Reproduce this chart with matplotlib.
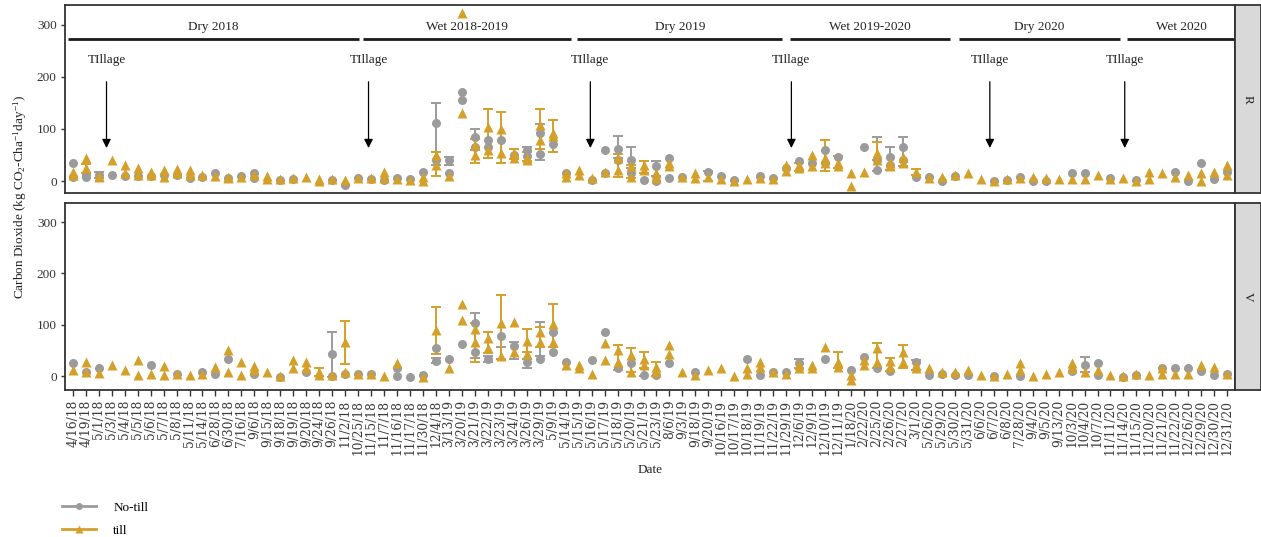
import numpy as np
import matplotlib
matplotlib.use("Agg")
import matplotlib.pyplot as plt
from matplotlib.lines import Line2D

nan = np.nan

dates = ["4/16/18", "4/19/18", "5/1/18", "5/3/18", "5/4/18", "5/5/18", "5/6/18", "5/7/18",
         "5/8/18", "5/11/18", "5/14/18", "6/28/18", "6/30/18", "7/16/18", "9/6/18", "9/15/18",
         "9/18/18", "9/19/18", "9/20/18", "9/24/18", "9/26/18", "11/2/18", "10/25/18", "11/15/18",
         "11/7/18", "11/16/18", "11/17/18", "11/30/18", "12/4/18", "3/13/19", "3/20/19", "3/21/19",
         "3/22/19", "3/23/19", "3/24/19", "3/26/19", "3/29/19", "5/9/19", "5/14/19", "5/15/19",
         "5/16/19", "5/17/19", "5/18/19", "5/20/19", "5/21/19", "5/23/19", "8/6/19", "9/3/19",
         "9/18/19", "9/20/19", "10/16/19", "10/17/19", "10/18/19", "11/19/19", "11/22/19", "11/29/19",
         "12/6/19", "12/9/19", "12/10/19", "12/11/19", "1/18/20", "2/22/20", "2/25/20", "2/26/20",
         "2/27/20", "3/1/20", "5/26/20", "5/29/20", "5/30/20", "5/31/20", "6/6/20", "6/7/20",
         "6/8/20", "7/28/20", "9/4/20", "9/5/20", "9/13/20", "10/3/20", "10/4/20", "10/7/20",
         "11/11/20", "11/14/20", "11/15/20", "11/20/20", "11/21/20", "11/22/20", "12/26/20", "12/29/20",
         "12/30/20", "12/31/20"]

# ---- site R : two observations per treatment and date ----
r_notill_a = [35, 12, 12, 12, 10, 10, 10, 12, 12, 5, 8, 15, 5, 10, 15, nan, 2, 4, nan, nan,
              2, -7, 5, 3, 2, 5, 3, 17, 111, 40, 171, 85, 79, 79, 50, 60, 92, 72, 15, nan,
              2, 60, 62, 40, 2, 28, 44, 8, nan, 17, 10, 2, nan, 10, 5, 25, 38, 35, 60, 47,
              nan, 66, 21, 47, 66, 8, 8, 0, 10, nan, nan, 0, 2, 8, 0, 0, nan, 15, 15, nan,
              5, nan, 2, nan, nan, 18, 0, 34, 3, 18]
r_notill_b = [8, 8, nan, nan, nan, nan, nan, nan, nan, nan, nan, nan, nan, nan, 5, nan, nan, nan, nan, nan,
              nan, nan, nan, nan, nan, nan, nan, nan, 40, 15, 156, 65, 65, nan, nan, 48, 52, nan, nan, nan,
              nan, 15, 40, 15, nan, 0, 5, nan, nan, nan, nan, nan, nan, nan, nan, nan, nan, nan, 35, nan,
              nan, nan, 40, 30, 40, nan, nan, nan, nan, nan, nan, nan, nan, nan, nan, nan, nan, nan, nan, nan,
              nan, nan, nan, nan, nan, nan, nan, nan, nan, nan]
r_till_a = [17, 44, 10, 40, 31, 25, 17, 22, 24, 21, 12, 10, 8, 8, 12, 10, 3, 5, 7, 3,
            3, 2, 5, 5, 17, 4, 2, 8, 50, 10, 323, 70, 104, 99, 54, 45, 108, 92, 15, 21,
            5, 18, 45, 28, 31, 15, 34, 8, 15, 8, 3, 0, 3, 5, 3, 30, 30, 50, 44, 34,
            15, 18, 54, 35, 47, 18, 5, 8, 12, 15, 3, 0, 3, 5, 8, 5, 3, 3, 3, 12,
            3, 5, 0, 18, 15, 8, 12, 15, 18, 31]
r_till_b = [12, 25, 8, nan, 15, 12, 12, 8, 15, 12, nan, nan, 5, nan, nan, 3, nan, nan, nan, 0,
            nan, nan, nan, nan, 5, nan, nan, 0, 30, nan, 130, 50, 60, 54, 45, 40, 79, 86, 8, 12,
            nan, nan, 22, 8, 21, 5, 28, nan, 5, nan, nan, nan, nan, nan, nan, 20, 25, 28, 35, 28,
            -10, nan, 40, 28, 35, nan, nan, nan, nan, nan, nan, nan, nan, nan, nan, nan, nan, nan, nan, nan,
            nan, nan, nan, 3, nan, nan, nan, 0, nan, 12]

# error bars (low, high) per date
r_notill_err = {"5/1/18": (5, 18), "12/4/18": (30, 150), "3/13/19": (30, 46), "3/21/19": (60, 100),
                "3/26/19": (38, 65), "3/29/19": (40, 110), "5/18/19": (45, 86), "5/20/19": (25, 66),
                "5/23/19": (10, 38), "9/20/19": (0, 20), "2/25/20": (20, 85), "2/26/20": (21, 66),
                "2/27/20": (28, 85)}
r_till_err = {"4/19/18": (15, 32), "12/4/18": (10, 55), "3/21/19": (35, 80), "3/22/19": (45, 138),
              "3/23/19": (35, 132), "3/24/19": (42, 62), "3/26/19": (38, 55), "3/29/19": (62, 138),
              "5/9/19": (55, 118), "5/18/19": (8, 52), "5/20/19": (5, 30), "5/21/19": (15, 38),
              "12/6/19": (20, 35), "12/10/19": (20, 78), "12/11/19": (25, 48), "2/25/20": (40, 75),
              "3/1/20": (12, 24)}

# ---- site V ----
v_notill_a = [26, 8, 16, nan, nan, nan, 21, nan, 5, nan, 8, 5, 34, nan, 5, nan, -1, nan, 8, nan,
              44, 5, 5, 5, nan, 15, -2, 3, 55, 33, 62, 104, 34, 78, 58, 28, 34, 86, 28, nan,
              31, 86, 15, 25, 2, 2, 25, nan, 8, nan, nan, nan, 34, 2, 8, 8, 25, nan, 34, nan,
              12, 38, 15, 10, nan, 28, 2, 5, 2, 2, nan, 0, nan, 0, nan, nan, nan, 10, 21, 25,
              nan, -2, 2, nan, 15, 15, 15, 10, 2, 5]
v_notill_b = [nan, nan, nan, nan, nan, nan, nan, nan, nan, nan, nan, nan, nan, nan, nan, nan, nan, nan, nan, nan,
              0, nan, nan, nan, nan, 0, nan, nan, 30, nan, nan, 47, nan, nan, nan, nan, nan, 47, nan, nan,
              nan, nan, nan, nan, nan, nan, nan, nan, nan, nan, nan, nan, nan, nan, nan, nan, nan, nan, nan, nan,
              nan, nan, nan, nan, nan, nan, nan, nan, nan, nan, nan, nan, nan, nan, nan, nan, nan, nan, nan, 2,
              nan, nan, nan, nan, nan, nan, nan, nan, nan, nan]
v_till_a = [12, 28, 6, 21, 12, 31, 5, 20, 5, 3, 5, 18, 50, 28, 20, 8, 0, 31, 28, 8,
            2, 67, 5, 5, 0, 25, nan, -2, 89, 15, 141, 91, 75, 104, 106, 69, 86, 101, 21, 21,
            5, 64, 51, 41, 34, 18, 60, 8, 2, 12, 15, 0, 15, 28, 8, 5, 21, 21, 56, 28,
            2, 31, 54, 30, 47, 21, 15, 8, 8, 12, 2, 0, 5, 25, 0, 5, 8, 25, 8, 12,
            2, 0, 5, 2, 15, 5, 5, 21, 18, 5]
v_till_b = [nan, 8, nan, nan, nan, 2, nan, 2, nan, nan, nan, nan, 8, 2, 12, nan, nan, 16, 16, 2,
            nan, 8, nan, nan, nan, nan, nan, nan, nan, nan, 109, 67, 54, 40, 47, 44, 67, 67, nan, 15,
            nan, 31, 28, 8, 21, 8, 44, nan, nan, nan, nan, nan, 5, 18, nan, nan, 15, 15, nan, 18,
            -8, 21, 28, 18, 28, 15, nan, nan, nan, nan, nan, nan, nan, 12, nan, nan, nan, 15, nan, nan,
            nan, nan, nan, nan, 5, nan, nan, nan, nan, nan]

v_notill_err = {"9/26/18": (-2, 85), "12/4/18": (25, 35), "3/21/19": (35, 122), "3/22/19": (28, 40),
                "3/23/19": (34, 56), "3/24/19": (34, 67), "3/26/19": (15, 34), "3/29/19": (40, 106),
                "5/21/19": (0, 15), "12/6/19": (15, 34), "3/1/20": (12, 32), "10/4/20": (8, 38)}
v_till_err = {"9/24/18": (0, 15), "11/2/18": (23, 108), "12/4/18": (44, 135), "3/21/19": (28, 104),
              "3/22/19": (45, 86), "3/23/19": (34, 158), "3/26/19": (47, 92), "3/29/19": (56, 96),
              "5/9/19": (56, 141), "5/18/19": (12, 60), "5/20/19": (8, 54), "5/21/19": (15, 47),
              "5/23/19": (0, 28), "12/11/19": (15, 47), "2/25/20": (15, 64), "2/26/20": (10, 35),
              "2/27/20": (15, 60)}

seasons = ["Dry 2018", "Wet 2018-2019", "Dry 2019", "Wet 2019-2020", "Dry 2020", "Wet 2020"]
season_start = [-0.4, 22.4, 38.9, 55.3, 68.3, 81.3]
season_end = [22.1, 38.4, 54.7, 67.6, 80.7, 89.6]
tillage_at = [2.6, 22.8, 39.9, 55.4, 70.7, 81.1]

GREY = "#9b9b9b"
GOLD = "#d4a02a"
DARK = "#333333"
SERIF = "Liberation Serif"

plt.rcParams["font.family"] = SERIF
plt.rcParams["mathtext.fontset"] = "custom"
plt.rcParams["mathtext.rm"] = SERIF
plt.rcParams["mathtext.it"] = SERIF + ":italic"

W, H = 1261, 537
fig = plt.figure(figsize=(W / 100, H / 100), dpi=100)


def box(l, t, r, b):
    return [l / W, 1 - b / H, (r - l) / W, (b - t) / H]


x = np.arange(len(dates))


def draw_panel(ax, nt_a, nt_b, t_a, t_b, nt_err, t_err):
    for err, col in ((nt_err, GREY), (t_err, GOLD)):
        xi = [dates.index(d) for d in err]
        lo = np.array([v[0] for v in err.values()], float)
        hi = np.array([v[1] for v in err.values()], float)
        mid = (lo + hi) / 2
        ax.errorbar(xi, mid, yerr=[mid - lo, hi - mid], fmt="none", ecolor=col,
                    elinewidth=1.4, capsize=3.5, capthick=1.4, zorder=2)
    for vals in (nt_a, nt_b):
        ax.plot(x, vals, "o", color=GREY, ms=6.5, mec="none", zorder=3)
    for vals in (t_a, t_b):
        ax.plot(x, vals, "^", color=GOLD, ms=7.5, mec="none", zorder=4)
    ax.set_xlim(-0.6, 89.6)
    ax.set_yticks([0, 100, 200, 300])
    ax.tick_params(axis="y", length=3, width=1, color=DARK, labelsize=9.5, labelcolor=DARK, pad=3)
    for s in ax.spines.values():
        s.set_color(DARK)
        s.set_linewidth(1.3)


ax1 = fig.add_axes(box(65, 5, 1235, 193))
draw_panel(ax1, r_notill_a, r_notill_b, r_till_a, r_till_b, r_notill_err, r_till_err)
ax1.set_ylim(-23, 338)
ax1.tick_params(axis="x", bottom=False, labelbottom=False)

ax2 = fig.add_axes(box(65, 203, 1235, 390))
draw_panel(ax2, v_notill_a, v_notill_b, v_till_a, v_till_b, v_notill_err, v_till_err)
ax2.set_ylim(-27, 337)
ax2.set_xticks(x)
ax2.set_xticklabels(dates, rotation=90, fontsize=8.8, family="DejaVu Serif", color="#3a3a3a")
ax2.tick_params(axis="x", length=4, width=1, color=DARK, pad=3)

# season bars and tillage arrows
for name, s0, s1 in zip(seasons, season_start, season_end):
    ax1.plot([s0, s1], [273, 273], color="#1a1a1a", lw=2, solid_capstyle="butt", zorder=5)
    ax1.text((s0 + s1) / 2, 296, name, ha="center", va="center", fontsize=9.5, color="#222222")
for t in tillage_at:
    ax1.text(t, 233, "TIllage", ha="center", va="center", fontsize=9.5, color="#222222")
    ax1.annotate("", xy=(t, 58), xytext=(t, 196),
                 arrowprops=dict(arrowstyle="-|>", color="black", lw=0.9, mutation_scale=13))

# facet strips
for top, bot, lab in ((5, 193, "R"), (203, 390, "V")):
    sax = fig.add_axes(box(1235, top, 1261, bot))
    sax.set_facecolor("#d9d9d9")
    sax.set_xticks([])
    sax.set_yticks([])
    for s in sax.spines.values():
        s.set_color(DARK)
        s.set_linewidth(1.3)
    sax.text(0.5, 0.5, lab, rotation=-90, ha="center", va="center", fontsize=9.5,
             color="#222222", transform=sax.transAxes)

fig.text(20 / W, 1 - 197 / H, r"Carbon Dioxide (kg CO$_2$-Cha$^{-1}$day$^{-1}$)",
         rotation=90, ha="center", va="center", fontsize=9.5, color="#222222")
fig.text(650 / W, 1 - 470 / H, "Date", ha="center", va="center", fontsize=9.5, color="#222222")

handles = [Line2D([], [], color=GREY, lw=2, marker="o", ms=5, mec="none"),
           Line2D([], [], color=GOLD, lw=2, marker="^", ms=6, mec="none")]
fig.legend(handles, ["No-till", "till"], loc="upper left", bbox_to_anchor=(50 / W, 1 - 490 / H),
           frameon=False, fontsize=9.5, handlelength=2.6, handletextpad=1.3, labelspacing=0.8)

fig.savefig("out.png", dpi=100)
